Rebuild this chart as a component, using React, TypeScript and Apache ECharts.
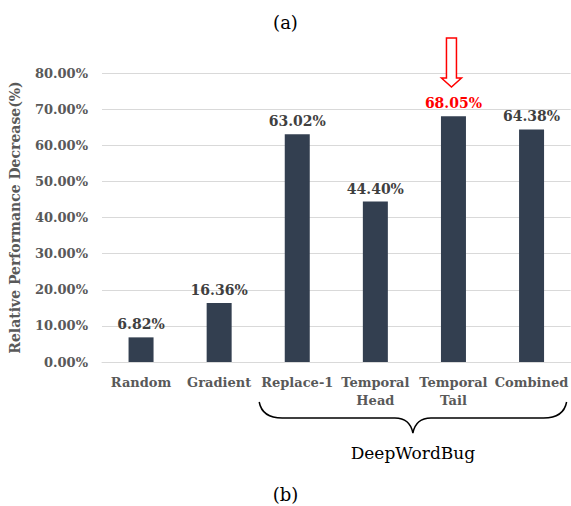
import React, { useEffect, useRef } from "react";
import * as echarts from "echarts";

const categories = ["Random", "Gradient", "Replace-1", "Temporal\nHead", "Temporal\nTail", "Combined"];
const values = [6.82, 16.36, 63.02, 44.40, 68.05, 64.38];
const highlightIndex = 4;
const yTicks = [0, 10, 20, 30, 40, 50, 60, 70, 80];
const groupLabel = "DeepWordBug";
const groupStart = 2;
const groupEnd = 5;

const FONT = "DejaVu Serif";

export default function App() {
  const ref = useRef<HTMLDivElement>(null);
  useEffect(() => {
    if (!ref.current) return;
    const chart = echarts.init(ref.current, null, { renderer: "svg" });
    const option: any = {
      animation: false,
      title: [
        { text: "(a)", left: "center", top: 8, textStyle: { fontFamily: FONT, fontWeight: "normal", fontSize: 18, color: "#000" } },
        { text: "(b)", left: "center", top: 480, textStyle: { fontFamily: FONT, fontWeight: "normal", fontSize: 18, color: "#000" } },
      ],
      grid: { left: 101, right: -3, top: 73, bottom: 144, containLabel: false },
      xAxis: {
        type: "category",
        data: categories,
        axisLine: { lineStyle: { color: "#d9d9d9" } },
        axisTick: { show: false },
        axisLabel: { fontFamily: FONT, fontWeight: "bold", fontSize: 13, color: "#595959", margin: 11, lineHeight: 18, interval: 0 },
      },
      yAxis: {
        type: "value",
        min: yTicks[0],
        max: yTicks[yTicks.length - 1],
        interval: 10,
        name: "Relative Performance Decrease(%)",
        nameLocation: "middle",
        nameGap: 80,
        nameTextStyle: { fontFamily: FONT, fontWeight: "bold", fontSize: 14, color: "#595959" },
        axisLabel: { fontFamily: FONT, fontWeight: "bold", fontSize: 13, color: "#595959", margin: 14, formatter: (v: number) => v.toFixed(2) + "%" },
        splitLine: { lineStyle: { color: "#d9d9d9" } },
      },
      series: [
        {
          type: "bar",
          data: values.map((v, i) => ({
            value: v,
            label: i === highlightIndex ? { color: "#ff0000" } : undefined,
          })),
          barWidth: 25,
          itemStyle: { color: "#333f50" },
          label: {
            show: true,
            position: "top",
            distance: 6,
            fontFamily: FONT,
            fontWeight: "bold",
            fontSize: 14,
            color: "#404040",
            formatter: (p: any) => p.value.toFixed(2) + "%",
          },
        },
      ],
    };
    chart.setOption(option);

    const px = (i: number) => chart.convertToPixel({ xAxisIndex: 0 }, i) as number;
    const half = (px(1) - px(0)) / 2;
    const bx0 = px(groupStart) - half + 1;
    const bx1 = px(groupEnd) + half - 4;
    const bm = (bx0 + bx1) / 2;
    const by0 = 402, by1 = 418, by2 = 433;
    const braceD = `M${bx0} ${by0} Q${bx0 + 3} ${by1} ${bx0 + 23} ${by1} L${bm - 18} ${by1} Q${bm - 3} ${by1} ${bm} ${by2} Q${bm + 3} ${by1} ${bm + 18} ${by1} L${bx1 - 23} ${by1} Q${bx1 - 3} ${by1} ${bx1} ${by0}`;
    echarts.graphic.registerShape("brace", echarts.graphic.extendPath(braceD, {}) as any);

    const ax = px(highlightIndex) - 2;
    const arrowPts = [
      [ax - 5, 38], [ax + 5, 38], [ax + 5, 78], [ax + 10, 78], [ax, 87], [ax - 10, 78], [ax - 5, 78],
    ];

    chart.setOption({
      graphic: [
        { type: "brace", x: 0, y: 0, style: { fill: "none", stroke: "#000", lineWidth: 1.5 } },
        { type: "text", x: bm, y: 453, style: { text: groupLabel, fontFamily: FONT, fontSize: 17, fill: "#000", align: "center", verticalAlign: "middle" } },
        { type: "polygon", shape: { points: arrowPts }, style: { fill: "#fff", stroke: "#ff0000", lineWidth: 1.5 } },
      ],
    });

    return () => chart.dispose();
  }, []);
  return <div ref={ref} style={{ position: "fixed", left: 0, top: 0, width: 571, height: 506, background: "#fff" }} />;
}
